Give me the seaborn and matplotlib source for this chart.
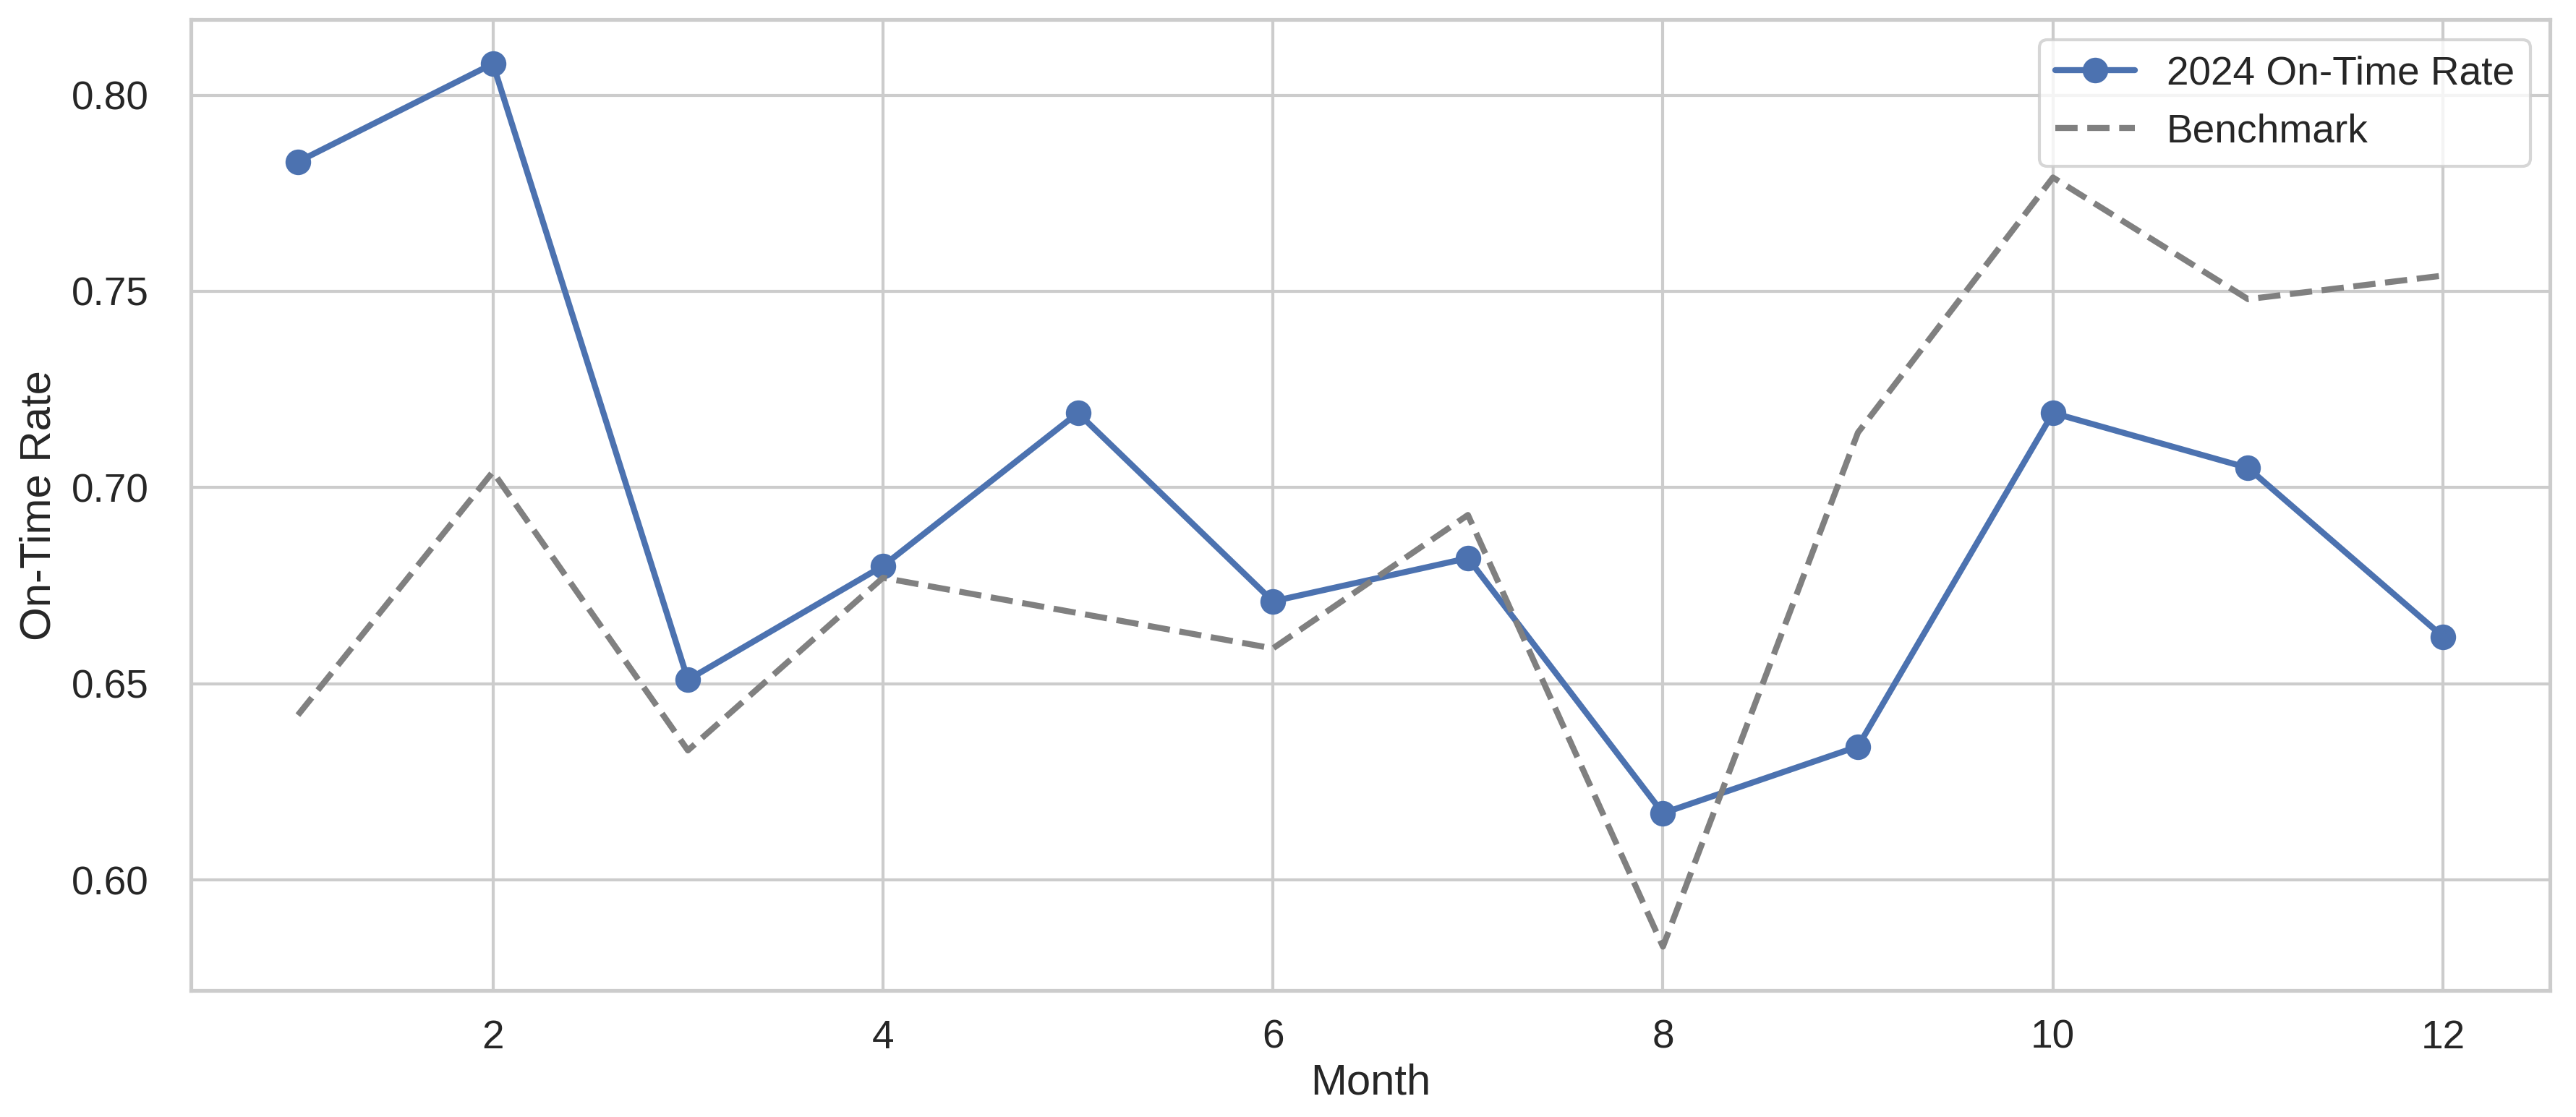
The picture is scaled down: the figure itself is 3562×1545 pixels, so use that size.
import numpy as np
import pandas as pd
import matplotlib
matplotlib.use("Agg")
import matplotlib.pyplot as plt
import seaborn as sns

# -------------------------
# === Data ================
# -------------------------
months = [1, 2, 3, 4, 5, 6, 7, 8, 9, 10, 11, 12]
on_time_2024 = [0.783, 0.808, 0.651, 0.680, 0.719, 0.671, 0.682, 0.617, 0.634, 0.719, 0.705, 0.662]
benchmark = [0.642, 0.704, 0.633, 0.677, 0.668, 0.659, 0.693, 0.583, 0.714, 0.779, 0.748, 0.754]

df = pd.DataFrame({"Month": months, "OnTime": on_time_2024, "Benchmark": benchmark})

sns.set_theme(style="whitegrid", context="notebook", font_scale=1.2)
plt.rcParams['font.family'] = ['Liberation Sans', 'DejaVu Sans']

DPI = 300
fig, ax = plt.subplots(figsize=(3562 / DPI, 1545 / DPI), dpi=DPI)
fig.subplots_adjust(left=0.074, right=0.990, top=0.9825, bottom=0.113)

sns.lineplot(data=df, x="Month", y="OnTime", marker="o", markersize=8.5,
             markeredgewidth=0, color="#4c72b0", linewidth=2,
             label="2024 On-Time Rate", ax=ax)
sns.lineplot(data=df, x="Month", y="Benchmark", color="gray", linestyle="--",
             linewidth=2, label="Benchmark", ax=ax)

ax.set_xlabel("Month", labelpad=2)
ax.set_ylabel("On-Time Rate")
ax.tick_params(axis="y", pad=8)
ax.legend(loc="upper right")

fig.savefig("out.png", dpi=DPI)
